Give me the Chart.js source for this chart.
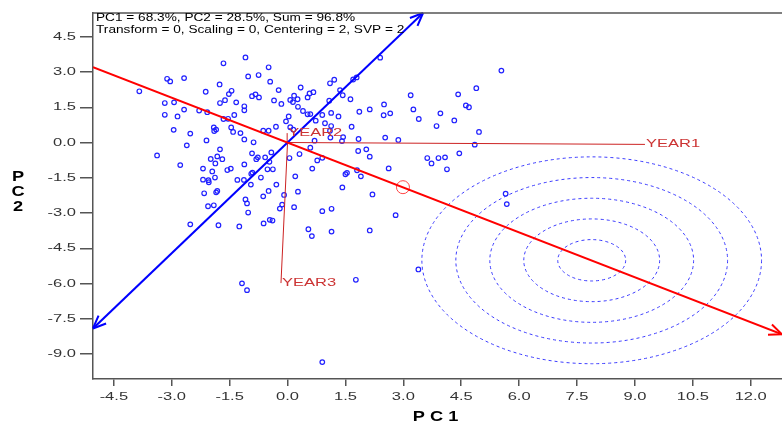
<!DOCTYPE html>
<html>
<head>
<meta charset="utf-8">
<script src="https://cdn.jsdelivr.net/npm/chart.js@4.4.0/dist/chart.umd.min.js"></script>
<style>
  html, body { margin: 0; padding: 0; background: #fff; overflow: hidden; }
</style>
</head>
<body>
<canvas id="biplot" width="782" height="424"></canvas>
<script>
// genotype scores (PC1, PC2)
const genoX = [-1.09,-1.66,-0.49,2.40,5.54,-3.12,-3.04,-2.68,-1.02,-0.75,-0.45,-3.84,-1.76,-2.12,-1.45,-1.52,-0.92,-0.83,-0.74,-0.23,
  -3.18,-2.94,-1.75,-1.62,-1.33,-1.12,-1.12,-0.35,-0.16,-3.18,-2.85,-2.68,-2.29,-2.08,-1.66,-1.54,-1.38,-2.95,-2.52,-1.91,
  -1.85,-1.90,-1.46,-1.41,-1.22,-0.63,-0.49,-0.30,-0.04,0.03,-1.12,-2.10,1.70,1.79,1.10,1.21,0.34,1.36,1.43,1.63,
  0.57,0.67,0.52,0.17,0.07,0.14,0.26,0.27,1.08,3.19,2.50,2.13,1.86,3.26,2.49,2.66,3.40,3.86,3.96,0.40,
  0.52,0.59,0.90,1.13,1.32,0.73,0.97,1.13,1.66,0.07,0.15,1.10,1.11,1.44,1.41,0.70,1.84,2.53,2.87,4.89,
  4.42,4.62,4.70,4.32,4.96,4.85,4.45,3.62,3.91,4.08,3.73,4.13,0.59,1.83,2.04,2.13,0.05,0.31,0.77,0.90,
  0.64,1.50,1.54,1.80,1.90,2.62,0.20,1.42,2.20,-0.09,0.27,-0.14,0.17,0.90,1.14,2.80,0.54,0.63,1.14,2.13,
  -0.20,-2.61,-0.88,-1.75,-3.38,-1.99,-1.82,-1.69,-1.87,-0.92,-0.77,-0.81,-0.58,-0.42,-0.47,-2.78,-2.19,-1.95,-1.56,-1.47,
  -1.12,-0.94,-0.91,-0.52,-0.38,-2.19,-2.05,-2.04,-1.88,-1.30,-1.13,-0.69,-0.95,-0.29,-2.16,-1.85,-1.82,-0.49,-0.63,-1.09,
  -1.05,-2.06,-1.91,-1.02,-0.46,-0.39,-0.62,-2.52,-1.79,-1.25,-1.18,-1.05,1.77,3.39,5.65,5.68,0.90];
const genoY = [3.62,3.37,3.20,3.61,3.06,2.71,2.60,2.74,2.81,2.87,2.59,2.18,2.47,2.16,2.20,2.06,1.97,2.05,1.92,2.23,
  1.68,1.71,1.68,1.80,1.71,1.54,1.37,1.79,1.64,1.18,1.11,1.40,1.36,1.29,1.00,1.01,1.17,0.54,0.38,0.64,
  0.55,0.49,0.64,0.45,0.40,0.50,0.50,0.67,0.90,1.11,0.13,0.09,2.68,2.77,2.52,2.67,2.34,2.23,2.01,1.84,
  2.09,2.14,1.92,1.99,1.81,1.72,1.84,1.52,1.78,2.01,1.62,1.41,1.31,1.41,1.16,1.24,1.00,0.70,1.24,1.34,
  1.20,1.21,1.17,1.26,1.11,0.93,0.82,0.70,0.67,0.65,0.55,0.50,0.21,0.23,0.06,0.08,0.15,0.21,0.11,2.31,
  2.05,1.58,1.50,0.94,0.45,-0.09,-0.46,-0.66,-0.66,-0.63,-0.89,-1.14,-0.22,-0.36,-0.29,-0.60,-0.66,-0.49,-0.76,-0.65,
  -1.11,-1.35,-1.29,-1.18,-1.44,-1.10,-1.44,-1.91,-2.21,-2.23,-2.09,-2.64,-2.75,-2.92,-2.82,-3.09,-3.69,-3.98,-3.79,-3.74,
  -2.81,-0.12,0.01,-0.29,-0.55,-0.70,-0.59,-0.71,-0.89,-0.46,-0.63,-0.71,-0.63,-0.42,-0.82,-0.96,-1.11,-1.23,-1.17,-1.11,
  -0.93,-1.33,-1.28,-1.14,-1.14,-1.58,-1.60,-1.69,-1.49,-1.59,-1.59,-1.49,-1.79,-1.79,-2.16,-2.12,-2.06,-2.06,-2.29,-2.42,
  -2.59,-2.71,-2.67,-2.98,-3.29,-3.32,-3.44,-3.48,-3.52,-3.57,-5.99,-6.28,-5.84,-5.40,-2.18,-2.62,-9.34];

// environment vectors
const envNames = ["YEAR1", "YEAR2", "YEAR3"];
const envX = [9.26, -0.01, -0.17];
const envY = [-0.08, 0.40, -5.98];

// average-environment axis and its ordinate
const atcX = [-5.04, 12.81];
const atcY = [3.21, -8.16];
const ordX = [-5.04, 3.51];
const ordY = [-7.91, 5.51];
const avgEnv = [2.99, -1.90];

// ideal genotype rings
const idealX = 7.88;
const idealY = -5.01;
const ringRadii = [0.88, 1.76, 2.64, 3.52, 4.40];

const xTicks = [-4.5, -3.0, -1.5, 0.0, 1.5, 3.0, 4.5, 6.0, 7.5, 9.0, 10.5, 12.0];
const yTicks = [4.5, 3.0, 1.5, 0.0, -1.5, -3.0, -4.5, -6.0, -7.5, -9.0];

const infoLines = ["PC1 = 68.3%, PC2 = 28.5%, Sum = 96.8%",
  "Transform = 0, Scaling = 0, Centering = 2, SVP = 2"];

function wideText(ctx, s, x, y, align, sx) {
  ctx.save();
  ctx.translate(x, y);
  ctx.scale(sx, 1);
  ctx.textAlign = align;
  ctx.textBaseline = "middle";
  ctx.fillText(s, 0, 0);
  ctx.restore();
}

function arrowHead(ctx, fx, fy, tx, ty, color) {
  const ang = Math.atan2(ty - fy, tx - fx);
  ctx.save();
  ctx.strokeStyle = color;
  ctx.lineWidth = 2;
  ctx.beginPath();
  for (const d of [-0.4, 0.4]) {
    ctx.moveTo(tx, ty);
    ctx.lineTo(tx - 14 * Math.cos(ang + d), ty - 14 * Math.sin(ang + d));
  }
  ctx.stroke();
  ctx.restore();
}

const decor = {
  id: "decor",
  beforeDatasetsDraw(chart) {
    const { ctx, chartArea: a, scales: { x, y } } = chart;
    const kx = x.getPixelForValue(1) - x.getPixelForValue(0);
    const ky = y.getPixelForValue(0) - y.getPixelForValue(1);
    const cx = x.getPixelForValue(idealX), cy = y.getPixelForValue(idealY);
    ctx.save();
    ctx.beginPath();
    ctx.rect(a.left, a.top, a.right - a.left, a.bottom - a.top);
    ctx.clip();
    ctx.strokeStyle = "#3a3aff";
    ctx.lineWidth = 1;
    ctx.setLineDash([3, 3]);
    ringRadii.forEach(r => {
      ctx.beginPath();
      ctx.ellipse(cx, cy, r * kx, r * ky, 0, 0, Math.PI * 2);
      ctx.stroke();
    });
    ctx.restore();
  },
  afterDatasetsDraw(chart) {
    const { ctx, scales: { x, y } } = chart;
    const px = v => x.getPixelForValue(v), py = v => y.getPixelForValue(v);
    arrowHead(ctx, px(atcX[0]), py(atcY[0]), px(atcX[1]), py(atcY[1]), "#ff0000");
    arrowHead(ctx, px(ordX[0]), py(ordY[0]), px(ordX[1]), py(ordY[1]), "#0000ff");
    arrowHead(ctx, px(ordX[1]), py(ordY[1]), px(ordX[0]), py(ordY[0]), "#0000ff");

    ctx.fillStyle = "#cc3333";
    ctx.font = "11px 'Liberation Sans', Arial, sans-serif";
    envNames.forEach((n, i) => {
      wideText(ctx, n, px(envX[i]) + 1, py(envY[i]), "left", 1.5);
    });
  },
  afterDraw(chart) {
    const { ctx, chartArea: a, scales: { x, y } } = chart;
    ctx.save();
    ctx.strokeStyle = "#555";
    ctx.lineWidth = 1.5;
    ctx.beginPath();
    ctx.moveTo(a.left, a.top);
    ctx.lineTo(a.right, a.top);
    ctx.stroke();

    ctx.fillStyle = "#333";
    ctx.font = "11px 'Liberation Sans', Arial, sans-serif";
    xTicks.forEach(v => wideText(ctx, v.toFixed(1), x.getPixelForValue(v), a.bottom + 18, "center", 1.5));
    yTicks.forEach(v => wideText(ctx, v.toFixed(1), a.left - 17, y.getPixelForValue(v), "right", 1.5));

    ctx.fillStyle = "#000";
    ctx.font = "bold 14px 'Liberation Sans', Arial, sans-serif";
    wideText(ctx, "P C 1", (a.left + a.right) / 2 - 2, 417, "center", 1.3);
    ["P", "C", "2"].forEach((c, i) => wideText(ctx, c, 18, 177 + i * 15, "center", 1.3));

    ctx.font = "10.5px 'Liberation Sans', Arial, sans-serif";
    infoLines.forEach((s, i) => wideText(ctx, s, a.left + 3, 18.5 + i * 12, "left", 1.3));
    ctx.restore();
  }
};

const chart = new Chart(document.getElementById("biplot"), {
  type: "scatter",
  data: {
    datasets: [
      {
        type: "line",
        data: atcX.map((v, i) => ({ x: v, y: atcY[i] })),
        borderColor: "#ff0000",
        borderWidth: 2,
        pointRadius: 0
      },
      {
        type: "line",
        data: ordX.map((v, i) => ({ x: v, y: ordY[i] })),
        borderColor: "#0000ff",
        borderWidth: 2,
        pointRadius: 0
      },
      ...envNames.map((n, i) => ({
        type: "line",
        label: n,
        data: [{ x: 0, y: 0 }, { x: envX[i], y: envY[i] }],
        borderColor: "#cc2222",
        borderWidth: 1,
        pointRadius: 0
      })),
      {
        data: [{ x: avgEnv[0], y: avgEnv[1] }],
        pointRadius: 6.5,
        borderWidth: 1,
        borderColor: "#ff4444",
        backgroundColor: "rgba(0,0,0,0)"
      },
      {
        label: "genotypes",
        data: genoX.map((v, i) => ({ x: v, y: genoY[i] })),
        pointRadius: 2.3,
        borderWidth: 1.2,
        borderColor: "#2020ff",
        backgroundColor: "rgba(0,0,0,0)"
      }
    ]
  },
  options: {
    responsive: false,
    animation: false,
    layout: { autoPadding: false, padding: { top: 13, left: 0, right: 0, bottom: 0 } },
    plugins: { legend: { display: false }, tooltip: { enabled: false } },
    scales: {
      x: {
        type: "linear",
        min: -5.04,
        max: 12.81,
        afterFit: s => { s.height = 45; },
        afterBuildTicks: s => { s.ticks = xTicks.map(v => ({ value: v })); },
        ticks: { display: false },
        grid: { drawOnChartArea: false, tickLength: 7, color: "#555", lineWidth: 1.5 },
        border: { color: "#555", width: 1.5 }
      },
      y: {
        type: "linear",
        min: -10.06,
        max: 5.51,
        afterFit: s => { s.width = 93; },
        afterBuildTicks: s => { s.ticks = yTicks.map(v => ({ value: v })); },
        ticks: { display: false },
        grid: { drawOnChartArea: false, tickLength: 13, color: "#555", lineWidth: 1.5 },
        border: { color: "#555", width: 1.5 }
      }
    }
  },
  plugins: [decor]
});
</script>
</body>
</html>
